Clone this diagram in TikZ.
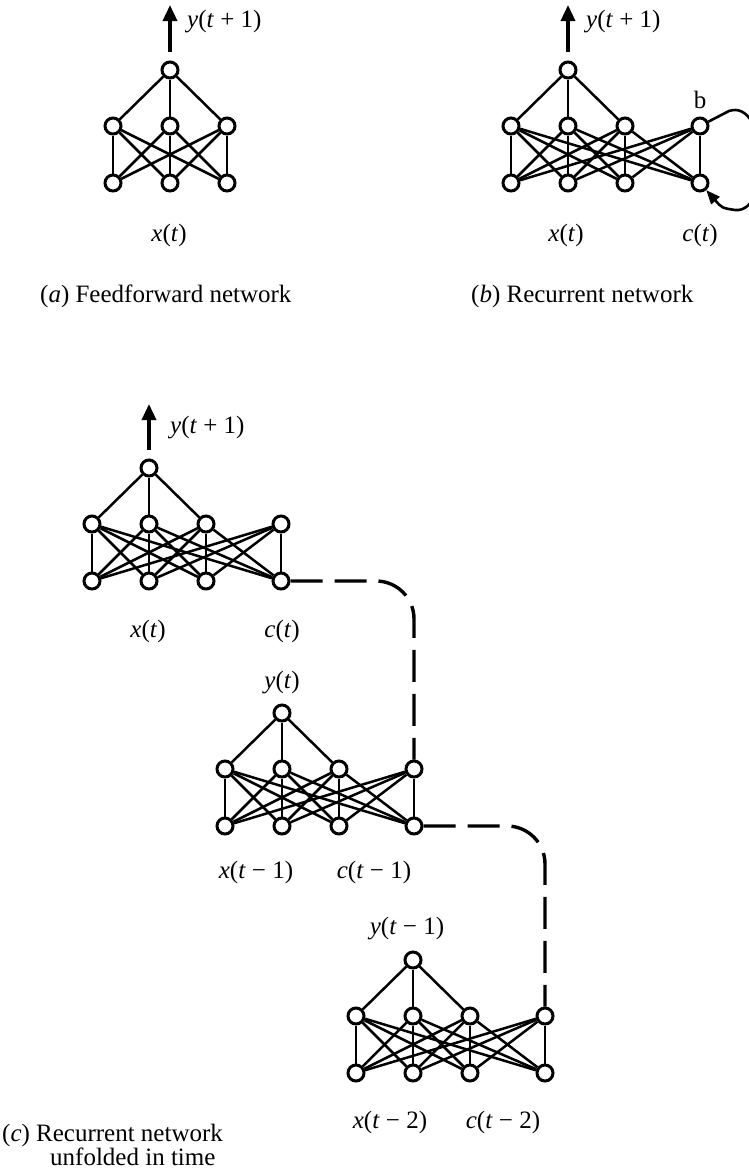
\documentclass[tikz,border=0pt]{standalone}
\usepackage{fontspec}
\setmainfont{Liberation Serif}
\usetikzlibrary{arrows.meta,positioning,calc}

\tikzset{
  unit/.style={circle, draw, line width=3pt, fill=white, minimum size=16pt, inner sep=0pt},
  wire/.style={line width=2.5pt},
  outarrow/.style={line width=3.5pt, -{Triangle[width=14pt,length=16pt]}, shorten <=9pt},
  recur/.style={line width=2.6pt, -{Triangle[width=11pt,length=14pt]}},
  unfold/.style={line width=3.4pt, dash pattern=on 32pt off 12pt, rounded corners=38pt},
  lbl/.style={font=\fontsize{25}{25}\selectfont, inner sep=0pt},
}

\begin{document}
\begin{tikzpicture}[x=1pt,y=-1pt]
\useasboundingbox (0,0) rectangle (748,1176);

% (a) feedforward
\node[unit] (a-o) at (170,70) {};
\foreach \i/\x in {1/113,2/170,3/227} {
  \node[unit] (a-h\i) at (\x,126) {};
  \node[unit] (a-i\i) at (\x,183) {};
}
\foreach \i in {1,2,3} {
  \draw[wire] (a-o) -- (a-h\i);
  \foreach \j in {1,2,3} \draw[wire] (a-h\i) -- (a-i\j);
}

% recurrent nets
\foreach \n/\ox/\oy in {b/568/70, c1/149/468, c2/282/713, c3/413/960} {
  \node[unit] (\n-o) at (\ox,\oy) {};
  \foreach \i/\dx in {1/-57,2/0,3/57,4/132} {
    \node[unit] (\n-h\i) at (\ox+\dx,\oy+56) {};
    \node[unit] (\n-i\i) at (\ox+\dx,\oy+113) {};
  }
  \foreach \i in {1,...,4} {
    \foreach \j in {1,...,4} \draw[wire] (\n-h\i) -- (\n-i\j);
  }
  \foreach \i in {1,2,3} \draw[wire] (\n-o) -- (\n-h\i);
}

% outputs
\coordinate (a-y) at (170,5);
\coordinate (b-y) at (568,5);
\coordinate (c1-y) at (149,404);
\draw[outarrow] (a-o) -- (a-y);
\draw[outarrow] (b-o) -- (b-y);
\draw[outarrow] (c1-o) -- (c1-y);

% context loop
\coordinate (b-r1) at (729,111);
\coordinate (b-r2) at (735,210);
\draw[recur] (b-h4) -- (b-r1) .. controls (768,98) and (772,214) .. (b-r2)
  .. controls (722,208) .. (b-i4);

% unfolding
\draw[unfold] (c1-i4) -- (c1-i4 -| c2-h4) -- (c2-h4);
\draw[unfold] (c2-i4) -- (c2-i4 -| c3-h4) -- (c3-h4);

% labels
\node[lbl, anchor=west] (a-ylbl) at (187,22) {\textit{y}(\textit{t} + 1)};
\node[lbl] (a-xlbl) at (169,235) {\textit{x}(\textit{t})};
\node[lbl, anchor=west] (a-cap) at (40,296) {(\textit{a}) Feedforward network};

\node[lbl, anchor=west] (b-ylbl) at (586,22) {\textit{y}(\textit{t} + 1)};
\node[lbl] (b-blbl) at (700,100) {b};
\node[lbl] (b-xlbl) at (566,235) {\textit{x}(\textit{t})};
\node[lbl] (b-clbl) at (700,235) {\textit{c}(\textit{t})};
\node[lbl, anchor=west] (b-cap) at (471,296) {(\textit{b}) Recurrent network};

\node[lbl, anchor=west] (c1-ylbl) at (170,428) {\textit{y}(\textit{t} + 1)};
\node[lbl] (c1-xlbl) at (148,631) {\textit{x}(\textit{t})};
\node[lbl] (c1-clbl) at (282,631) {\textit{c}(\textit{t})};

\node[lbl] (c2-ylbl) at (282,683) {\textit{y}(\textit{t})};
\node[lbl] (c2-xlbl) at (256,872) {\textit{x}(\textit{t} − 1)};
\node[lbl] (c2-clbl) at (374,872) {\textit{c}(\textit{t} − 1)};

\node[lbl] (c3-ylbl) at (407,929) {\textit{y}(\textit{t} − 1)};
\node[lbl] (c3-xlbl) at (390,1122) {\textit{x}(\textit{t} − 2)};
\node[lbl] (c3-clbl) at (503,1122) {\textit{c}(\textit{t} − 2)};

\node[lbl, anchor=north west, align=left, font=\fontsize{25}{24}\selectfont]
  (c-cap) at (2,1124) {(\textit{c}) Recurrent network\\\hspace*{48pt}unfolded in time};
\end{tikzpicture}
\end{document}
